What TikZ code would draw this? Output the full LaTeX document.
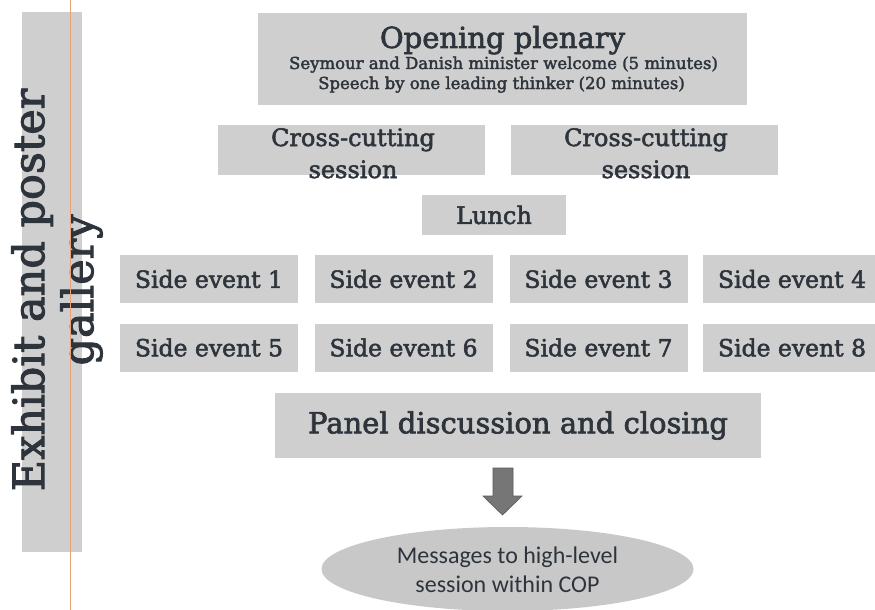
\documentclass[tikz,border=0pt]{standalone}
\usepackage{fontspec}
\setmainfont{DejaVu Serif}[UprightFeatures={FakeBold=2.2}]
\newfontfamily\calib{Carlito}
\usetikzlibrary{shapes.geometric}
\definecolor{boxgray}{RGB}{207,207,207}
\definecolor{ellgray}{RGB}{200,200,200}
\definecolor{txt}{RGB}{46,52,60}
\definecolor{arrowgray}{RGB}{118,118,118}
\definecolor{arrowedge}{RGB}{90,90,90}
\definecolor{marginline}{RGB}{236,160,120}
\begin{document}
\begin{tikzpicture}[x=1pt,y=-1pt,
  blk/.style={fill=boxgray, draw=none, inner sep=0pt, text=txt, align=center},
  lbl/.style={inner sep=0pt, text=txt, anchor=base, align=center},
  sev/.style={blk, minimum width=178pt, minimum height=48pt, font=\fontsize{23.5}{25}\selectfont},
  cross/.style={blk, minimum width=267pt, minimum height=50pt},
]
\useasboundingbox (0,0) rectangle (875,610);
\fill[white] (0,0) rectangle (875,610);
% left gallery bar
\node[blk, minimum width=60pt, minimum height=540pt] (gal) at (52,282) {};
\node[lbl, anchor=center, rotate=90, font=\fontsize{43}{49}\selectfont] (galT) at (57,290) {Exhibit and poster\\gallery};
% opening plenary
\node[blk, minimum width=489pt, minimum height=92pt] (plen) at (502.5,59) {};
\node[lbl, font=\fontsize{29}{30}\selectfont] (plenA) at (502.5,48) {Opening plenary};
\node[lbl, font=\fontsize{16.5}{18}\selectfont] (plenB) at (503.5,69) {Seymour and Danish minister welcome (5 minutes)};
\node[lbl, font=\fontsize{16.5}{18}\selectfont] (plenC) at (501.5,89) {Speech by one leading thinker (20 minutes)};
% cross-cutting sessions
\node[cross] (cc1) at (351.5,150) {};
\node[lbl, font=\fontsize{24}{26}\selectfont] (cc1a) at (353,146) {Cross-cutting};
\node[lbl, font=\fontsize{24}{26}\selectfont] (cc1b) at (353,178) {session};
\node[cross] (cc2) at (644.5,150) {};
\node[lbl, font=\fontsize{24}{26}\selectfont] (cc2a) at (646,146) {Cross-cutting};
\node[lbl, font=\fontsize{24}{26}\selectfont] (cc2b) at (646,178) {session};
% lunch
\node[blk, minimum width=144pt, minimum height=40pt, font=\fontsize{24}{26}\selectfont] (lunch) at (494,215) {Lunch};
% side events
\node[sev] (s1) at (209,279) {Side event 1};
\node[sev] (s2) at (403.5,279) {Side event 2};
\node[sev] (s3) at (598.5,279) {Side event 3};
\node[sev] (s4) at (792,279) {Side event 4};
\node[sev] (s5) at (209,347.5) {Side event 5};
\node[sev] (s6) at (403.5,347.5) {Side event 6};
\node[sev] (s7) at (598.5,347.5) {Side event 7};
\node[sev] (s8) at (792,347.5) {Side event 8};
% panel
\node[blk, minimum width=486pt, minimum height=65pt, font=\fontsize{29}{30}\selectfont] (panel) at (518,425.5) {Panel discussion and closing};
% messages ellipse
\node[ellipse, fill=ellgray, inner sep=0pt, minimum width=372pt, minimum height=84pt] (msg) at (507.5,569) {};
\node[lbl, font=\calib\fontsize{24}{26}\selectfont] (msgA) at (507.5,563) {Messages to high-level};
\node[lbl, font=\calib\fontsize{24}{26}\selectfont] (msgB) at (507.5,592) {session within COP};
% block arrow
\fill[arrowgray, draw=arrowedge, line width=0.6pt]
  (493,468) -- (513,468) -- (513,496) -- (522,496) -- (502.5,515) -- (483,496) -- (493,496) -- cycle;
% scan margin line
\draw[marginline, line width=0.7pt] (70,0) -- (70,610);
\end{tikzpicture}
\end{document}
